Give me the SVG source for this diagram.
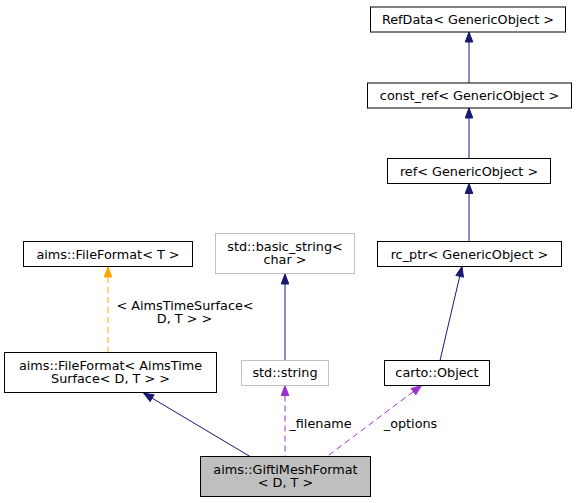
<svg xmlns="http://www.w3.org/2000/svg" width="577" height="503" viewBox="0 0 577 503">
<style>
  text { font-family: "DejaVu Sans", "Noto Sans", sans-serif; font-size: 12.8px; fill: #000; text-anchor: middle; }
  .box { fill: #fff; stroke: #000; stroke-width: 1; }
  .ext { fill: #fff; stroke: #bfbfbf; stroke-width: 1; }
  .cur { fill: #bfbfbf; stroke: #000; stroke-width: 1; }
  .inh { fill: none; stroke: #191970; stroke-width: 1; }
  .tpl { fill: none; stroke: #ffa500; stroke-width: 1; stroke-dasharray: 6,4; }
  .use { fill: none; stroke: #9a32cd; stroke-width: 1; stroke-dasharray: 6,4; }
</style>
<defs>
  <marker id="aNavy" viewBox="0 -4.5 11 9" refX="0" refY="0" markerWidth="11" markerHeight="9" markerUnits="userSpaceOnUse" orient="auto">
    <path d="M0,0 L10,-3.8 L10,3.8 Z" fill="#191970" stroke="#191970" stroke-width="1"/>
  </marker>
  <marker id="aOrange" viewBox="0 -4.5 11 9" refX="0" refY="0" markerWidth="11" markerHeight="9" markerUnits="userSpaceOnUse" orient="auto">
    <path d="M0,0 L10,-3.8 L10,3.8 Z" fill="#ffa500" stroke="#ffa500" stroke-width="1"/>
  </marker>
  <marker id="aPurple" viewBox="0 -4.5 11 9" refX="0" refY="0" markerWidth="11" markerHeight="9" markerUnits="userSpaceOnUse" orient="auto">
    <path d="M0,0 L10,-3.8 L10,3.8 Z" fill="#9a32cd" stroke="#9a32cd" stroke-width="1"/>
  </marker>
</defs>
<g id="edges">
  <path class="inh" d="M143.5,393 L250,456.5" marker-start="url(#aNavy)"/>
  <path class="tpl" d="M108,267 L108,352.5" marker-start="url(#aOrange)"/>
  <path class="inh" d="M285,274 L285,360.5" marker-start="url(#aNavy)"/>
  <path class="use" d="M285,385.5 L285,456.5" marker-start="url(#aPurple)"/>
  <path class="use" d="M421.5,385.5 L327,456.5" marker-start="url(#aPurple)"/>
  <path class="inh" d="M462,266.5 L440,360.5" marker-start="url(#aNavy)"/>
  <path class="inh" d="M469,183.5 L469,241.5" marker-start="url(#aNavy)"/>
  <path class="inh" d="M469,108 L469,158.5" marker-start="url(#aNavy)"/>
  <path class="inh" d="M469,32 L469,83" marker-start="url(#aNavy)"/>
  <text x="185" y="309.5">&lt; AimsTimeSurface&lt;</text>
  <text x="184.5" y="323">D, T &gt; &gt;</text>
  <text x="320.5" y="427.5">_filename</text>
  <text x="410.5" y="427.5">_options</text>
</g>
<g id="node-refdata">
  <rect class="box" x="370.5" y="7" width="195" height="25"/>
  <text x="468" y="24">RefData&lt; GenericObject &gt;</text>
</g>
<g id="node-constref">
  <rect class="box" x="367.5" y="83" width="204" height="25"/>
  <text x="469.5" y="100">const_ref&lt; GenericObject &gt;</text>
</g>
<g id="node-ref">
  <rect class="box" x="387.5" y="158.5" width="163" height="25"/>
  <text x="469" y="175.5">ref&lt; GenericObject &gt;</text>
</g>
<g id="node-rcptr">
  <rect class="box" x="377.5" y="241.5" width="184" height="25"/>
  <text x="469.5" y="258.5">rc_ptr&lt; GenericObject &gt;</text>
</g>
<g id="node-fileformat-t">
  <rect class="box" x="23.5" y="241.5" width="169" height="25"/>
  <text x="108" y="258.5">aims::FileFormat&lt; T &gt;</text>
</g>
<g id="node-basic-string">
  <rect class="ext" x="215.5" y="233.5" width="139" height="40"/>
  <text x="285" y="250.5">std::basic_string&lt;</text>
  <text x="285" y="264">char &gt;</text>
</g>
<g id="node-fileformat-ats">
  <rect class="box" x="4.5" y="352.5" width="212" height="40"/>
  <text x="110.5" y="369.5">aims::FileFormat&lt; AimsTime</text>
  <text x="110.5" y="383">Surface&lt; D, T &gt; &gt;</text>
</g>
<g id="node-string">
  <rect class="ext" x="241.5" y="360.5" width="87" height="25"/>
  <text x="285" y="377">std::string</text>
</g>
<g id="node-carto-object">
  <rect class="box" x="384.5" y="360.5" width="105" height="25"/>
  <text x="437" y="377">carto::Object</text>
</g>
<g id="node-gifti">
  <rect class="cur" x="200.5" y="456.5" width="170" height="40"/>
  <text x="285.5" y="473.5">aims::GiftiMeshFormat</text>
  <text x="285.5" y="487">&lt; D, T &gt;</text>
</g>
</svg>
